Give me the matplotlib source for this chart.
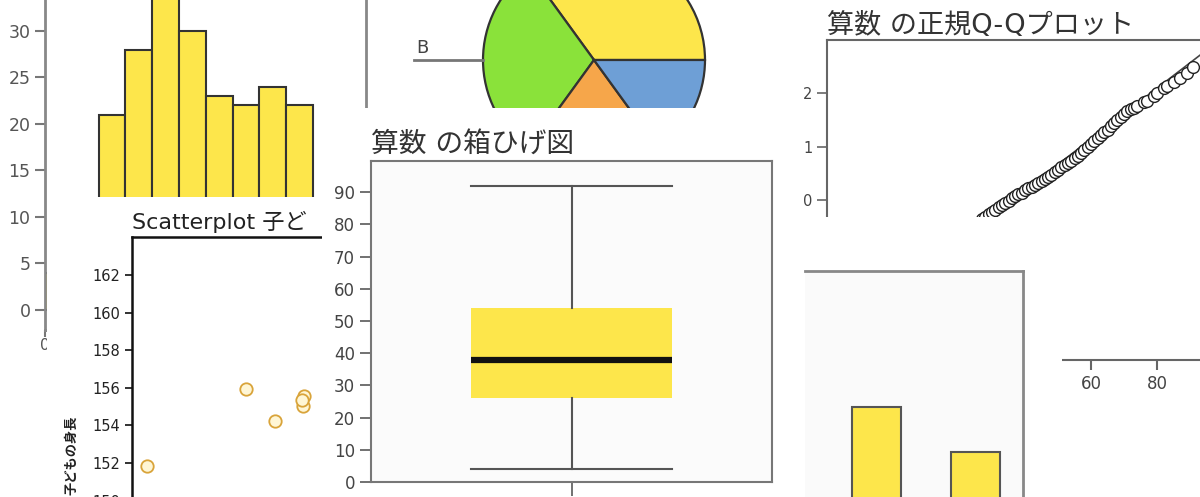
import matplotlib
matplotlib.use("Agg")
import matplotlib.pyplot as plt

plt.rcParams['font.family'] = ['DejaVu Sans', 'Noto Sans CJK JP']

hist_bins = [0, 10, 20, 30, 40, 50, 60, 70, 80, 90]
hist_counts = [4, 9, 21, 28, 35, 30, 23, 22, 24, 22]

pie_labels = ['A', 'B', 'C', 'D']
pie_values = [35, 30, 20, 15]
pie_colors = ['#FDE64B', '#8AE23A', '#F6A64A', '#6E9FD6']

scatter_x = [141.4, 150.7, 153.4, 156.1, 156.0, 155.9]
scatter_y = [151.84, 155.94, 154.23, 155.56, 155.03, 155.35]

box_stats = {'whislo': 4, 'q1': 26, 'med': 38, 'q3': 54, 'whishi': 92}

qq_score = [27, 28, 29, 30, 31, 32, 33, 34, 35, 36, 37, 38, 39, 40, 41, 42,
            43, 44, 45, 46, 47, 48, 49, 50, 51, 52, 53, 54, 55, 56, 57, 58,
            59, 60, 61, 62, 63, 64, 65, 66, 67, 68, 69, 70, 71, 72, 73, 74,
            76, 77, 79, 80, 82, 83, 85, 87, 89, 91]
qq_z = [-0.36, -0.31, -0.27, -0.23, -0.18, -0.14, -0.10, -0.05, -0.01, 0.03,
        0.07, 0.11, 0.14, 0.18, 0.22, 0.25, 0.29, 0.32, 0.36, 0.39, 0.43,
        0.47, 0.52, 0.56, 0.61, 0.65, 0.70, 0.74, 0.79, 0.83, 0.88, 0.94,
        0.99, 1.05, 1.10, 1.16, 1.21, 1.27, 1.32, 1.38, 1.44, 1.50, 1.56,
        1.62, 1.67, 1.70, 1.73, 1.76, 1.83, 1.86, 1.95, 2.00, 2.10, 2.14,
        2.21, 2.29, 2.39, 2.49]
qq_mean, qq_sd = 36, 21

bar_pos = [0, 1]
bar_values = [24.7, 16.4]

YELLOW = '#FDE64B'
W, H = 1200, 497

fig = plt.figure(figsize=(12, 4.97), dpi=100, facecolor='white')


def px(l, t, r, b):
    # pixel box (left, top, right, bottom) -> figure fraction rect
    return [l / W, 1 - b / H, (r - l) / W, (b - t) / H]


def card(l, t, r, b, z, color='white'):
    a = fig.add_axes(px(l, t, r, b))
    a.set_zorder(z)
    a.set_facecolor(color)
    a.set_xticks([])
    a.set_yticks([])
    for s in a.spines.values():
        s.set_visible(False)
    return a


# histogram (back, top left)
ax_h = fig.add_axes(px(45, 0, 366, 330))
ax_h.set_zorder(1)
ax_h.bar(hist_bins, hist_counts, width=10, align='edge', color=YELLOW,
         edgecolor='#333333', linewidth=1.5)
ax_h.set_xlim(0, 119.8)
ax_h.set_ylim(-2.15, 33.33)
ax_h.set_yticks(range(0, 31, 5))
ax_h.set_xticks([0])
ax_h.spines['top'].set_visible(False)
for s in ['left', 'right', 'bottom']:
    ax_h.spines[s].set_color('#888888')
    ax_h.spines[s].set_linewidth(2)
ax_h.tick_params(length=7, width=1.5, color='#777777', labelcolor='#555555',
                 labelsize=12.5)
ax_h.tick_params(axis='x', length=5, pad=1, labelsize=11)

# pie (top middle)
card(368, 0, 782, 108, 2)
ax_p = fig.add_axes(px(483, -51, 705, 171))
ax_p.set_zorder(2.1)
ax_p.pie(pie_values, colors=pie_colors, startangle=0, counterclock=True,
         radius=1, wedgeprops={'edgecolor': '#333333', 'linewidth': 1.6})
ax_p.set_xlim(-1, 1)
ax_p.set_ylim(-1, 1)
ax_p.set_aspect('equal')
ax_p.plot([-1.62, -1.0], [0, 0], color='#777777', lw=2, clip_on=False)
ax_p.text(-1.60, 0.063, pie_labels[1], fontsize=13, color='#444444',
          va='baseline', ha='left', clip_on=False)

# Q-Q plot (top right)
card(782, 0, 1200, 497, 2)
ax_q = fig.add_axes(px(827, 40, 1223, 360))
ax_q.set_zorder(2.1)
ax_q.axline((qq_mean, 0), slope=1 / qq_sd, color='#444444', lw=1.2)
ax_q.scatter(qq_score, qq_z, s=72, facecolors='white', edgecolors='#222222',
             linewidths=1.0, zorder=3)
ax_q.set_xlim(-20, 100)
ax_q.set_ylim(-3, 3)
ax_q.set_yticks([-2, -1, 0, 1, 2])
ax_q.set_xticks([0, 20, 40, 60, 80])
ax_q.spines['right'].set_visible(False)
for s in ['left', 'top', 'bottom']:
    ax_q.spines[s].set_color('#666666')
    ax_q.spines[s].set_linewidth(1.5)
ax_q.tick_params(axis='y', length=7, width=1.2, color='#666666',
                 labelcolor='#444444', labelsize=10.5)
ax_q.tick_params(axis='x', length=7, width=1.5, color='#666666',
                 labelcolor='#444444', labelsize=12)
ax_q.set_title('算数 の正規Q-Qプロット', loc='left', fontsize=19.5,
               color='#333333', pad=5)

# scatterplot (bottom left), title cut by the box plot card
card(47, 197, 330, 497, 3)
ax_s = fig.add_axes(px(132, 237, 560, 520))
ax_s.set_zorder(3.1)
ax_s.scatter(scatter_x, scatter_y, s=80, facecolors='#FFF6D5',
             edgecolors='#D9A43A', linewidths=1.3)
ax_s.set_xlim(140, 180)
ax_s.set_ylim(148.97, 164.02)
ax_s.set_yticks(range(150, 163, 2))
ax_s.set_xticks([])
ax_s.spines['bottom'].set_visible(False)
ax_s.spines['right'].set_visible(False)
for s in ['left', 'top']:
    ax_s.spines[s].set_color('#111111')
    ax_s.spines[s].set_linewidth(1.8)
ax_s.tick_params(axis='y', length=5, width=1.3, color='#222222',
                 labelcolor='#222222', labelsize=10.5)
ax_s.set_title('Scatterplot 子ど', loc='left', fontsize=16,
               color='#222222', pad=6)
fig.text(72 / W, 1 - 455 / H, '子どもの身長', rotation=90, fontsize=9.5,
         fontweight='bold', color='#222222', ha='center', va='center',
         zorder=3.2)

# bar chart card (bottom right)
card(792, 217, 1062, 497, 4)
ax_b = fig.add_axes(px(805, 271, 1023, 540))
ax_b.set_zorder(4.1)
ax_b.set_facecolor('#FAFAFA')
ax_b.bar(bar_pos, bar_values, width=0.5, color=YELLOW, edgecolor='#555555',
         linewidth=1.5)
ax_b.set_xlim(-0.72, 1.48)
ax_b.set_ylim(0, 50)
ax_b.set_xticks([])
ax_b.set_yticks([])
ax_b.spines['left'].set_visible(False)
ax_b.spines['bottom'].set_visible(False)
for s in ['top', 'right']:
    ax_b.spines[s].set_color('#888888')
    ax_b.spines[s].set_linewidth(2)

# box plot (front, middle)
card(322, 108, 790, 497, 5)
ax_x = fig.add_axes(px(371, 161, 772, 482))
ax_x.set_zorder(5.1)
ax_x.set_facecolor('#FBFBFB')
ax_x.bxp([box_stats], positions=[1], widths=0.5, capwidths=0.5,
         showfliers=False, patch_artist=True,
         boxprops={'facecolor': YELLOW, 'edgecolor': 'none'},
         medianprops={'color': '#111111', 'linewidth': 4.5,
                      'solid_capstyle': 'butt'},
         whiskerprops={'color': '#555555', 'linewidth': 1.5},
         capprops={'color': '#555555', 'linewidth': 1.5})
ax_x.set_xlim(0.5, 1.5)
ax_x.set_ylim(0, 99.7)
ax_x.set_yticks(range(0, 91, 10))
ax_x.set_xticks([1])
ax_x.set_xticklabels([''])
for s in ax_x.spines.values():
    s.set_color('#777777')
    s.set_linewidth(1.5)
ax_x.tick_params(axis='y', length=8, width=1.3, color='#666666',
                 labelcolor='#444444', labelsize=12)
ax_x.tick_params(axis='x', length=10, width=1.3, color='#666666')
ax_x.set_title('算数 の箱ひげ図', loc='left', fontsize=20, color='#333333',
               pad=6.5)

fig.savefig('out.png', dpi=100, facecolor='white')
